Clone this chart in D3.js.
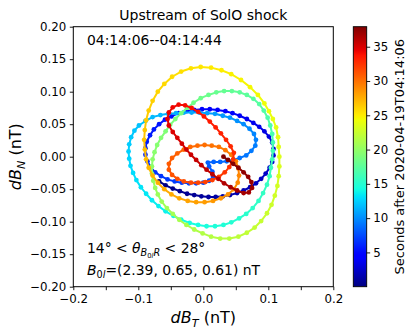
<!DOCTYPE html>
<html>
<head>
<meta charset="utf-8">
<script src="https://cdn.jsdelivr.net/npm/d3@7"></script>
<style>
  body { margin: 0; background: #fff; }
  text { font-family: "DejaVu Sans", sans-serif; fill: #000; }
</style>
</head>
<body>
<svg id="chart" width="415" height="336"></svg>
<script>
// hodogram samples (nT), in time order
const dBT = [
  // navy -> blue loop
  -0.068,-0.058,-0.047,-0.036,-0.025,-0.014,-0.003,0.008,0.019,0.030,
  0.041,0.052,0.062,0.072,0.081,0.089,0.096,0.102,0.106,0.108,
  0.108,0.106,0.101,0.094,0.086,0.077,0.067,0.056,0.045,0.034,
  0.022,0.010,-0.002,-0.014,-0.026,-0.038,-0.049,-0.059,-0.068,-0.076,
  -0.082,-0.087,-0.089,-0.089,-0.086,-0.081,-0.074,-0.065,-0.055,-0.044,
  -0.033,-0.022,-0.011,0.000,0.009,0.015,
  // light blue
  0.014,0.009,0.007,0.016,0.026,0.036,0.046,0.056,0.066,0.074,
  0.080,0.081,0.078,0.071,0.062,0.052,0.041,0.030,0.018,0.006,
  -0.006,-0.018,-0.030,-0.042,-0.054,-0.066,
  // cyan
  -0.078,-0.089,-0.099,-0.106,-0.111,-0.114,-0.115,-0.114,-0.112,-0.108,
  -0.103,-0.096,-0.088,-0.079,-0.069,-0.058,-0.046,-0.034,-0.021,-0.008,
  0.005,0.018,0.031,0.043,0.055,0.066,0.076,0.085,0.092,0.098,
  0.102,
  // green
  0.104,0.106,0.107,0.107,0.106,0.103,0.099,0.093,0.086,0.077,
  0.067,0.056,0.044,0.032,0.020,0.008,-0.004,-0.015,-0.025,-0.034,
  -0.043,-0.051,-0.058,-0.065,-0.071,-0.075,-0.078,-0.079,-0.079,-0.077,
  -0.074,
  // yellow-green
  -0.070,-0.064,-0.056,-0.047,-0.037,-0.026,-0.014,-0.001,0.012,0.026,
  0.040,0.054,0.067,0.079,0.089,0.098,0.105,0.110,0.114,0.116,
  0.117,0.117,0.116,0.115,0.112,
  // yellow
  0.107,0.101,0.094,0.084,0.072,0.058,0.043,0.028,0.012,-0.004,
  -0.019,-0.034,-0.048,-0.060,-0.070,-0.078,-0.084,-0.088,-0.090,-0.091,
  -0.090,-0.088,
  // orange
  -0.084,-0.078,-0.070,-0.060,-0.049,-0.037,-0.024,-0.011,0.002,0.015,
  0.027,0.038,0.047,0.053,0.055,0.054,0.050,0.043,0.034,0.024,
  0.013,0.002,-0.009,-0.020,-0.030,-0.040,-0.048,-0.053,-0.053,-0.048,
  -0.040,-0.030,-0.019,-0.008,0.003,0.014,0.024,0.033,0.040,
  // red
  0.046,0.047,0.042,0.035,0.027,0.019,0.010,0.001,-0.008,-0.018,
  -0.028,-0.038,-0.047,-0.053,-0.055,-0.053,-0.047,-0.040,
  // dark red
  -0.033,-0.026,-0.019,-0.011,-0.003,0.005,0.014,0.023,0.032,0.042,
  0.052,0.062,0.070,0.075,0.074,0.069,0.062,0.054,0.046,0.038,
  0.031
];
const dBN = [
  -0.038,-0.044,-0.049,-0.053,-0.057,-0.059,-0.061,-0.062,-0.062,-0.061,
  -0.059,-0.056,-0.052,-0.047,-0.041,-0.034,-0.026,-0.017,-0.008,0.002,
  0.012,0.022,0.031,0.039,0.046,0.052,0.058,0.063,0.067,0.070,
  0.072,0.073,0.073,0.072,0.070,0.067,0.062,0.057,0.050,0.042,
  0.033,0.023,0.013,0.003,-0.007,-0.016,-0.024,-0.030,-0.035,-0.038,
  -0.040,-0.041,-0.041,-0.040,-0.037,-0.031,

  -0.023,-0.015,-0.009,-0.008,-0.008,-0.007,-0.005,-0.002,0.002,0.009,
  0.017,0.026,0.035,0.043,0.050,0.055,0.060,0.063,0.066,0.067,
  0.068,0.068,0.068,0.067,0.066,0.064,

  0.061,0.055,0.048,0.040,0.030,0.019,0.008,-0.003,-0.014,-0.025,
  -0.036,-0.047,-0.057,-0.067,-0.076,-0.084,-0.091,-0.097,-0.102,-0.105,
  -0.107,-0.107,-0.105,-0.101,-0.095,-0.088,-0.079,-0.068,-0.056,-0.043,
  -0.030,

  -0.017,-0.004,0.009,0.022,0.035,0.048,0.060,0.071,0.081,0.089,
  0.095,0.099,0.101,0.101,0.099,0.095,0.090,0.083,0.075,0.067,
  0.058,0.049,0.039,0.029,0.018,0.007,-0.004,-0.015,-0.026,-0.037,
  -0.048,

  -0.058,-0.069,-0.079,-0.088,-0.097,-0.105,-0.112,-0.118,-0.123,-0.126,
  -0.126,-0.123,-0.117,-0.109,-0.099,-0.087,-0.074,-0.060,-0.045,-0.030,
  -0.015,0.000,0.015,0.030,0.045,

  0.058,0.070,0.082,0.095,0.107,0.118,0.127,0.133,0.137,0.138,
  0.136,0.131,0.123,0.112,0.100,0.086,0.071,0.056,0.041,0.026,
  0.011,-0.004,

  -0.017,-0.029,-0.040,-0.050,-0.058,-0.064,-0.068,-0.070,-0.070,-0.068,
  -0.064,-0.058,-0.050,-0.040,-0.029,-0.018,-0.007,0.003,0.010,0.015,
  0.017,0.018,0.017,0.015,0.011,0.005,-0.002,-0.011,-0.020,-0.028,
  -0.034,-0.038,-0.040,-0.040,-0.039,-0.036,-0.031,-0.024,-0.016,

  -0.004,0.006,0.016,0.026,0.036,0.045,0.054,0.062,0.069,0.075,
  0.079,0.080,0.076,0.068,0.058,0.048,0.038,0.029,

  0.020,0.011,0.003,-0.005,-0.013,-0.020,-0.027,-0.034,-0.041,-0.047,
  -0.052,-0.056,-0.055,-0.048,-0.039,-0.031,-0.024,-0.017,-0.011,-0.005,
  0.000
];
const dt = 0.1415; // sample cadence (s)
const times = dBT.map((d, i) => i * dt);

const xTicks = [-0.2, -0.15, -0.1, -0.05, 0, 0.05, 0.1, 0.15, 0.2];
const yTicks = [-0.2, -0.15, -0.1, -0.05, 0, 0.05, 0.1, 0.15, 0.2];
const cbTicks = [5, 10, 15, 20, 25, 30, 35];

const svg = d3.select("#chart");
const box = { left: 73.3, top: 26.7, size: 260 };
const tickFont = 11.8;

const x = d3.scaleLinear([-0.2, 0.2], [box.left, box.left + box.size]);
const y = d3.scaleLinear([-0.2, 0.2], [box.top + box.size, box.top]);

// matplotlib jet
const jetR = d3.scaleLinear([0, 0.35, 0.66, 0.89, 1], [0, 0, 1, 1, 0.5]).clamp(true);
const jetG = d3.scaleLinear([0, 0.125, 0.375, 0.64, 0.91, 1], [0, 0, 1, 1, 0, 0]).clamp(true);
const jetB = d3.scaleLinear([0, 0.11, 0.34, 0.65, 1], [0.5, 1, 1, 0, 0]).clamp(true);
const jet = f => d3.rgb(jetR(f) * 255, jetG(f) * 255, jetB(f) * 255).formatHex();
const tNorm = d3.scaleLinear(d3.extent(times), [0, 1]);
const color = t => jet(tNorm(t));

// trajectory
const pts = dBT.map((v, i) => ({ x: v, y: dBN[i], t: times[i] }));
const traj = svg.append("g");
traj.selectAll("g")
  .data(pts)
  .join("g")
  .each(function (d, i) {
    const g = d3.select(this);
    if (i > 0) {
      const p = pts[i - 1];
      g.append("line")
        .attr("x1", x(p.x)).attr("y1", y(p.y))
        .attr("x2", x(d.x)).attr("y2", y(d.y))
        .attr("stroke", color(d.t))
        .attr("stroke-width", 2)
        .attr("stroke-linecap", "round");
    }
    g.append("circle")
      .attr("cx", x(d.x)).attr("cy", y(d.y))
      .attr("r", 2.4)
      .attr("fill", color(d.t));
  });

// axes
const styleAxis = g => {
  g.select(".domain").remove();
  g.selectAll(".tick line").attr("stroke", "#000").attr("stroke-width", 0.9);
  g.selectAll(".tick text").attr("font-size", tickFont).attr("fill", "#000")
    .attr("font-family", "DejaVu Sans");
};

svg.append("g")
  .attr("transform", `translate(0,${box.top + box.size})`)
  .call(d3.axisBottom(x).tickValues(xTicks).tickSize(3.5).tickPadding(4.5)
    .tickFormat(d => (Math.round(d * 100) % 10 === 0 ? d3.format(".1f")(d) : "")))
  .call(styleAxis);

svg.append("g")
  .attr("transform", `translate(${box.left},0)`)
  .call(d3.axisLeft(y).tickValues(yTicks).tickSize(3.5).tickPadding(3.5)
    .tickFormat(d3.format(".2f")))
  .call(styleAxis);

svg.append("rect")
  .attr("x", box.left).attr("y", box.top)
  .attr("width", box.size).attr("height", box.size)
  .attr("fill", "none").attr("stroke", "#000").attr("stroke-width", 1);

// title and labels
svg.append("text")
  .attr("x", box.left + box.size / 2).attr("y", 20)
  .attr("text-anchor", "middle").attr("font-size", 14)
  .text("Upstream of SolO shock");

const xl = svg.append("text")
  .attr("x", box.left + box.size / 2).attr("y", 323)
  .attr("text-anchor", "middle").attr("font-size", 16);
xl.append("tspan").attr("font-style", "italic").text("dB");
xl.append("tspan").attr("font-style", "italic").attr("font-size", 11.2).attr("dy", 3.5).text("T");
xl.append("tspan").attr("dy", -3.5).text(" (nT)");

const yl = svg.append("text")
  .attr("transform", `translate(21,${box.top + box.size / 2}) rotate(-90)`)
  .attr("text-anchor", "middle").attr("font-size", 16);
yl.append("tspan").attr("font-style", "italic").text("dB");
yl.append("tspan").attr("font-style", "italic").attr("font-size", 11.2).attr("dy", 3.5).text("N");
yl.append("tspan").attr("dy", -3.5).text(" (nT)");

// annotations
const ann = svg.append("g").attr("font-size", 13.9);
ann.append("text").attr("x", 87).attr("y", 45).text("04:14:06--04:14:44");

const th = ann.append("text").attr("x", 87).attr("y", 253);
th.append("tspan").text("14° < ");
th.append("tspan").attr("font-style", "italic").text("θ");
th.append("tspan").attr("font-style", "italic").attr("font-size", 9.7).attr("dy", 3).text("B");
th.append("tspan").attr("font-size", 6.8).attr("dy", 2).text("0");
th.append("tspan").attr("font-style", "italic").attr("font-size", 6.8).text("l");
th.append("tspan").attr("font-style", "italic").attr("font-size", 9.7).attr("dy", -2).text("R");
th.append("tspan").attr("dy", -3).text(" < 28°");

const b0 = ann.append("text").attr("x", 87).attr("y", 275);
b0.append("tspan").attr("font-style", "italic").text("B");
b0.append("tspan").attr("font-size", 9.7).attr("dy", 3).text("0");
b0.append("tspan").attr("font-style", "italic").attr("font-size", 9.7).text("l");
b0.append("tspan").attr("dy", -3).text("=(2.39, 0.65, 0.61) nT");

// colorbar
const cb = { left: 353.3, width: 13.4 };
const cbScale = d3.scaleLinear(d3.extent(times), [box.top + box.size, box.top]);
const grad = svg.append("defs").append("linearGradient")
  .attr("id", "jetGrad").attr("x1", 0).attr("y1", 1).attr("x2", 0).attr("y2", 0);
grad.selectAll("stop")
  .data(d3.range(0, 1.0001, 0.01))
  .join("stop")
  .attr("offset", d => d)
  .attr("stop-color", d => jet(d));

svg.append("rect")
  .attr("x", cb.left).attr("y", box.top)
  .attr("width", cb.width).attr("height", box.size)
  .attr("fill", "url(#jetGrad)")
  .attr("stroke", "#000").attr("stroke-width", 0.9);

svg.append("g")
  .attr("transform", `translate(${cb.left + cb.width},0)`)
  .call(d3.axisRight(cbScale).tickValues(cbTicks).tickSize(3.5).tickPadding(3))
  .call(styleAxis);

svg.append("text")
  .attr("transform", `translate(404,${box.top + box.size / 2}) rotate(-90)`)
  .attr("text-anchor", "middle").attr("font-size", 13)
  .text("Seconds after 2020-04-19T04:14:06");
</script>
</body>
</html>
